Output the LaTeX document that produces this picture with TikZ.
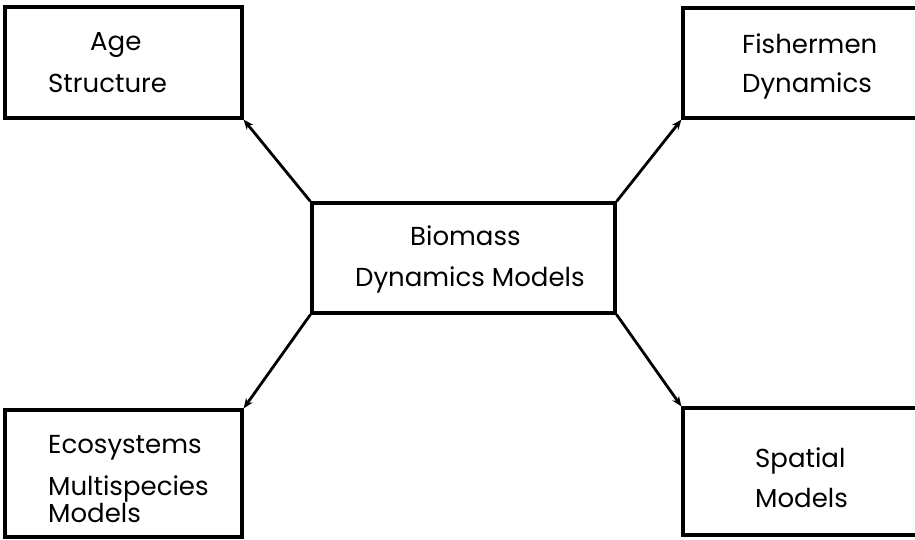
\documentclass[tikz,border=0pt]{standalone}
\usepackage{fontspec}
\setmainfont{Poppins}
\usetikzlibrary{arrows.meta}
\begin{document}
\begin{tikzpicture}[x=1pt,y=-1pt,
  box/.style={draw,line width=3.2pt,rectangle,inner sep=0pt},
  lbl/.style={anchor=base west,inner sep=0pt,font=\fontsize{26}{30}\selectfont},
  conn/.style={line width=2.8pt,-{Stealth[length=10pt,width=8pt]}}]
\clip (0,0) rectangle (915,539);
\fill[white] (0,0) rectangle (915,539);
% boxes
\node[box,minimum width=237pt,minimum height=111pt] (age) at (123.5,62.5) {};
\node[box,minimum width=250pt,minimum height=110pt] (fish) at (808,63) {};
\node[box,minimum width=303pt,minimum height=110pt] (bio) at (463.5,258) {};
\node[box,minimum width=237pt,minimum height=127pt] (eco) at (123.5,473.5) {};
\node[box,minimum width=250pt,minimum height=127pt] (spat) at (808,471.5) {};
% texts
\node[lbl] (t1) at (90,50) {Age};
\node[lbl] (t2) at (48,92) {Structure};
\node[lbl] (t3) at (742,53) {Fishermen};
\node[lbl] (t4) at (742,92) {Dynamics};
\node[lbl] (t5) at (410,245) {Biomass};
\node[lbl] (t6) at (355,286) {Dynamics Models};
\node[lbl] (t7) at (48,453) {Ecosystems};
\node[lbl] (t8) at (48,495) {Multispecies};
\node[lbl] (t9) at (48,522) {Models};
\node[lbl] (t10) at (755,467) {Spatial};
\node[lbl] (t11) at (755,507) {Models};
% connectors
\draw[conn] (bio.north west) -- (age.south east);
\draw[conn] (bio.north east) -- (fish.south west);
\draw[conn] (bio.south west) -- (eco.north east);
\draw[conn] (bio.south east) -- (spat.north west);
\end{tikzpicture}
\end{document}
